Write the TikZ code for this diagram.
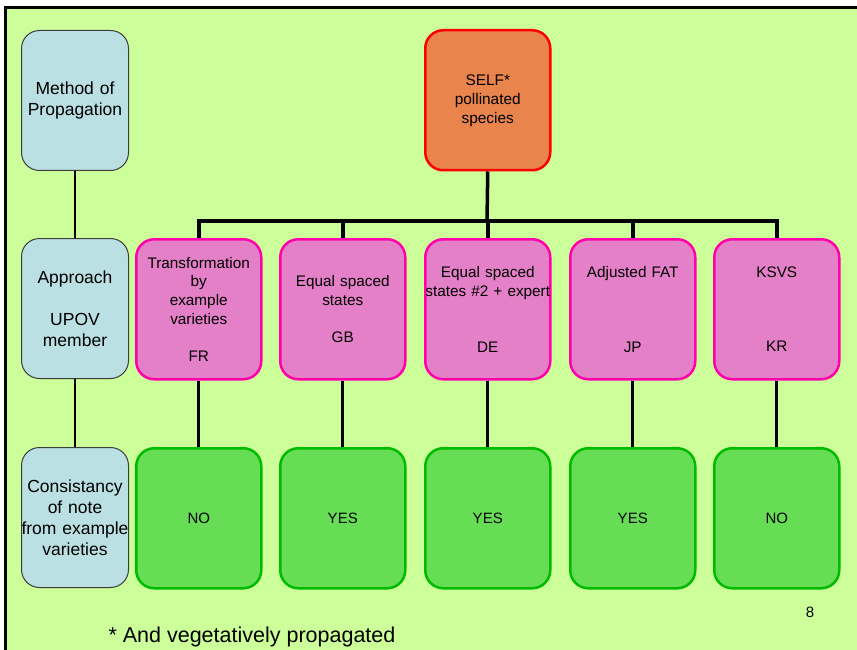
\documentclass[tikz,border=0pt]{standalone}
\usepackage{fontspec}
\setmainfont{Liberation Sans}
\definecolor{bggreen}{RGB}{204,255,153}
\definecolor{bluefill}{RGB}{186,224,227}
\definecolor{blueline}{RGB}{60,60,60}
\definecolor{pinkfill}{RGB}{228,128,200}
\definecolor{pinkline}{RGB}{255,0,170}
\definecolor{orangefill}{RGB}{232,132,76}
\definecolor{orangeline}{RGB}{255,0,0}
\definecolor{greenfill}{RGB}{102,221,85}
\definecolor{greenline}{RGB}{0,187,0}
\tikzset{
  box/.style={rectangle, rounded corners=18pt, inner sep=0pt, align=center,
    minimum height=140pt, anchor=north west},
  labelbox/.style={box, fill=bluefill, draw=blueline, line width=1pt,
    text width=107pt, minimum width=107pt,
    font=\fontsize{17.5}{21}\selectfont},
  selfbox/.style={box, fill=orangefill, draw=orangeline, line width=2.5pt,
    text width=125pt, minimum width=125pt,
    font=\fontsize{15.4}{19}\selectfont},
  approachbox/.style={box, fill=pinkfill, draw=pinkline, line width=2.5pt,
    text width=125pt, minimum width=125pt,
    font=\fontsize{15.3}{18.7}\selectfont},
  resultbox/.style={box, fill=greenfill, draw=greenline, line width=2.5pt,
    text width=125pt, minimum width=125pt,
    font=\fontsize{15}{18.5}\selectfont},
  busline/.style={line width=3.5pt},
  linkline/.style={line width=3pt},
  leftline/.style={line width=2pt},
}
\begin{document}
\begin{tikzpicture}[x=1pt,y=-1pt]
\useasboundingbox (0,0) rectangle (857,650);
\fill[bggreen] (5,8) rectangle (857,650);
\draw[line width=3pt] (5,650) -- (5,8) -- (857,8);

% left column
\node[labelbox] (method) at (21,30) {Method of\\Propagation};
\node[labelbox] (approach) at (21,238) {Approach\\[21pt]UPOV\\member};
\node[labelbox] (consist) at (21,447) {Consistancy\\of note\\from example\\varieties};

% top
\node[selfbox] (self) at (424,29) {SELF*\\pollinated\\species};

% approaches
\node[approachbox] (p1) at (135,238) {Transformation\\by\\example\\varieties\\[18.7pt]FR};
\node[approachbox] (p2) at (279,238) {Equal spaced\\states\\[18.7pt]GB};
\node[approachbox] (p3) at (424,238) {Equal spaced\\states \#2 + expert\\[37.4pt]DE};
\node[approachbox] (p4) at (569,238) {Adjusted FAT\\[56pt]JP};
\node[approachbox] (p5) at (713,238) {KSVS\\[56pt]KR};

% results
\node[resultbox] (r1) at (135,447) {NO};
\node[resultbox] (r2) at (279,447) {YES};
\node[resultbox] (r3) at (424,447) {YES};
\node[resultbox] (r4) at (569,447) {YES};
\node[resultbox] (r5) at (713,447) {NO};

% connectors
\coordinate (bus) at (487,221);
\draw[busline] (self.south) -- (bus);
\draw[busline] (p1.north) |- (bus) -| (p5.north);
\draw[busline] (p2.north) -- (p2.north |- bus);
\draw[busline] (p3.north) -- (p3.north |- bus);
\draw[busline] (p4.north) -- (p4.north |- bus);
\foreach \i in {1,...,5}{\draw[linkline] (p\i.south) -- (r\i.north);}
\draw[leftline] (method.south) -- (approach.north);
\draw[leftline] (approach.south) -- (consist.north);

% texts
\node[font=\fontsize{15}{18}\selectfont] (pagenum) at (810,612) {8};
\node[font=\fontsize{21.5}{25}\selectfont, anchor=west] (note) at (105,637) {* And vegetatively propagated};
\end{tikzpicture}
\end{document}
